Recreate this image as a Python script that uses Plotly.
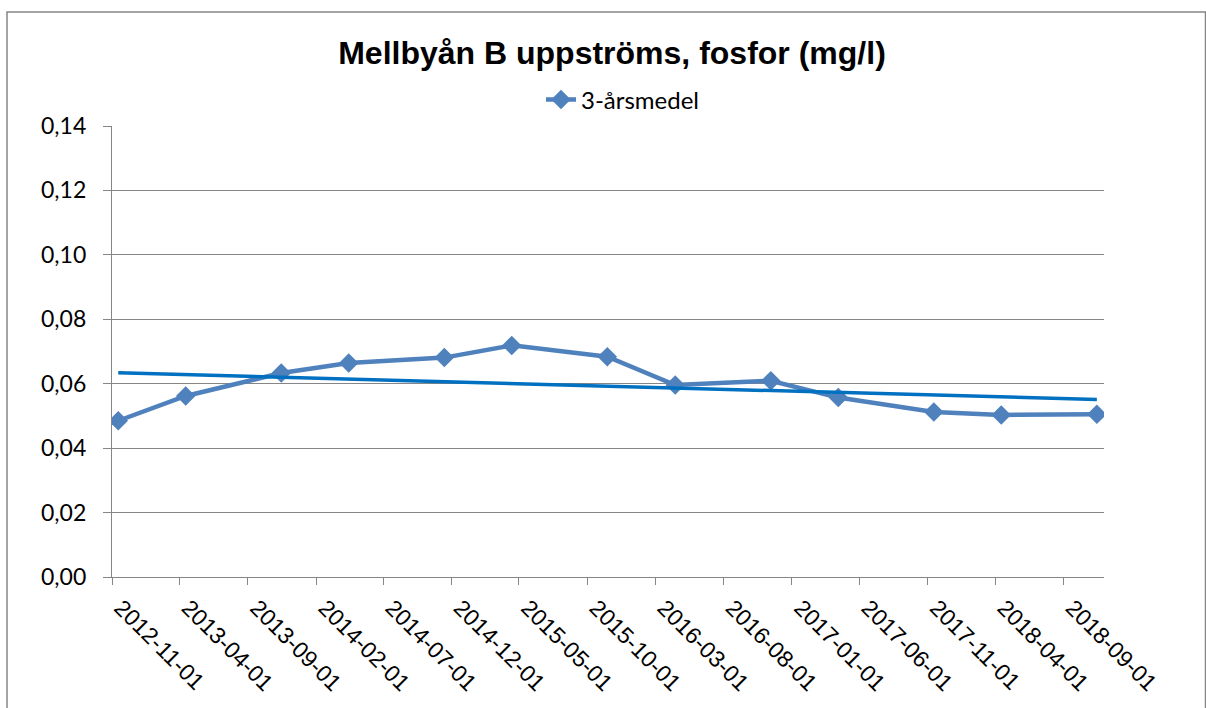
import numpy as np
import pandas as pd
import plotly.graph_objects as go

# ---- data ----
dates = ["2012-11-15", "2013-04-15", "2013-11-15", "2014-04-15", "2014-11-15",
         "2015-04-15", "2015-11-15", "2016-04-15", "2016-11-15", "2017-04-15",
         "2017-11-15", "2018-04-15", "2018-11-15"]
values = [0.0485, 0.0562, 0.0633, 0.0664, 0.0681, 0.0719, 0.0684, 0.0596,
          0.0609, 0.0557, 0.0512, 0.0503, 0.0505]
series_name = "3-årsmedel"
tick_dates = ["2012-11-01", "2013-04-01", "2013-09-01", "2014-02-01", "2014-07-01",
              "2014-12-01", "2015-05-01", "2015-10-01", "2016-03-01", "2016-08-01",
              "2017-01-01", "2017-06-01", "2017-11-01", "2018-04-01", "2018-09-01"]
tick_labels = tick_dates
x_range = ["2012-11-01", "2018-12-01"]
y_ticks = [0.00, 0.02, 0.04, 0.06, 0.08, 0.10, 0.12, 0.14]
title = "Mellbyån B uppströms, fosfor (mg/l)"

# linear trendline computed from the series
d = pd.to_datetime(dates)
days = (d - d[0]).days.values.astype(float)
slope, intercept = np.polyfit(days, values, 1)
trend_x = [dates[0], dates[-1]]
trend_y = [intercept + slope * days[0], intercept + slope * days[-1]]

W, H = 1206, 708
L, R, T, B = 112, 102, 126, 131
pw, ph = W - L - R, H - T - B
grey = "#868686"

fig = go.Figure()
fig.add_trace(go.Scatter(
    x=dates, y=values, name=series_name, mode="lines+markers",
    line=dict(color="#4F81BD", width=4.5),
    marker=dict(symbol="diamond", size=15, color="#4F81BD"),
))
fig.add_trace(go.Scatter(
    x=trend_x, y=trend_y, mode="lines", showlegend=False,
    line=dict(color="#0070C0", width=3.5), hoverinfo="skip",
))

fig.update_layout(
    width=W, height=H,
    margin=dict(l=L, r=R, t=T, b=B, pad=0),
    paper_bgcolor="white", plot_bgcolor="white",
    separators=", ",
    title=dict(text="<b>" + title + "</b>", x=612 / W, xref="container", xanchor="center",
               y=1 - 53 / H, yref="container", yanchor="middle",
               font=dict(family="Liberation Sans, Arial", size=32, color="black")),
    legend=dict(orientation="h", x=(541 - L) / pw, xanchor="left",
                y=(H - B - 100) / ph, yanchor="middle",
                font=dict(family="Lato", size=24, color="black"),
                bgcolor="rgba(0,0,0,0)"),
    xaxis=dict(type="date", range=x_range, tickmode="array", tickvals=tick_dates,
               ticktext=tick_labels, tickangle=45, ticks="outside", ticklen=7,
               tickcolor=grey, tickwidth=1.3, showline=True, linecolor=grey, linewidth=1.3,
               showgrid=False, zeroline=False, ticklabelshift=9,
               tickfont=dict(family="Liberation Sans, Arial", size=23, color="black")),
    yaxis=dict(range=[0, 0.14], tickmode="array", tickvals=y_ticks, tickformat=".2f",
               ticks="outside", ticklen=8, tickcolor=grey, tickwidth=1.3,
               showline=True, linecolor=grey, linewidth=1.3,
               showgrid=True, gridcolor=grey, gridwidth=1.3, zeroline=False,
               ticklabelstandoff=12,
               tickfont=dict(family="Lato", size=23, color="black")),
    shapes=[dict(type="rect", xref="paper", yref="paper",
                 x0=(7 - L) / pw, x1=(1205.5 - L) / pw,
                 y0=(H - B - 730) / ph, y1=(H - B - 12) / ph,
                 line=dict(color=grey, width=1.5), fillcolor="rgba(0,0,0,0)", layer="below")],
)

fig.write_html("out.html", config={"displayModeBar": False},
               post_script="document.body.style.margin='0';document.body.style.overflow='hidden';")
